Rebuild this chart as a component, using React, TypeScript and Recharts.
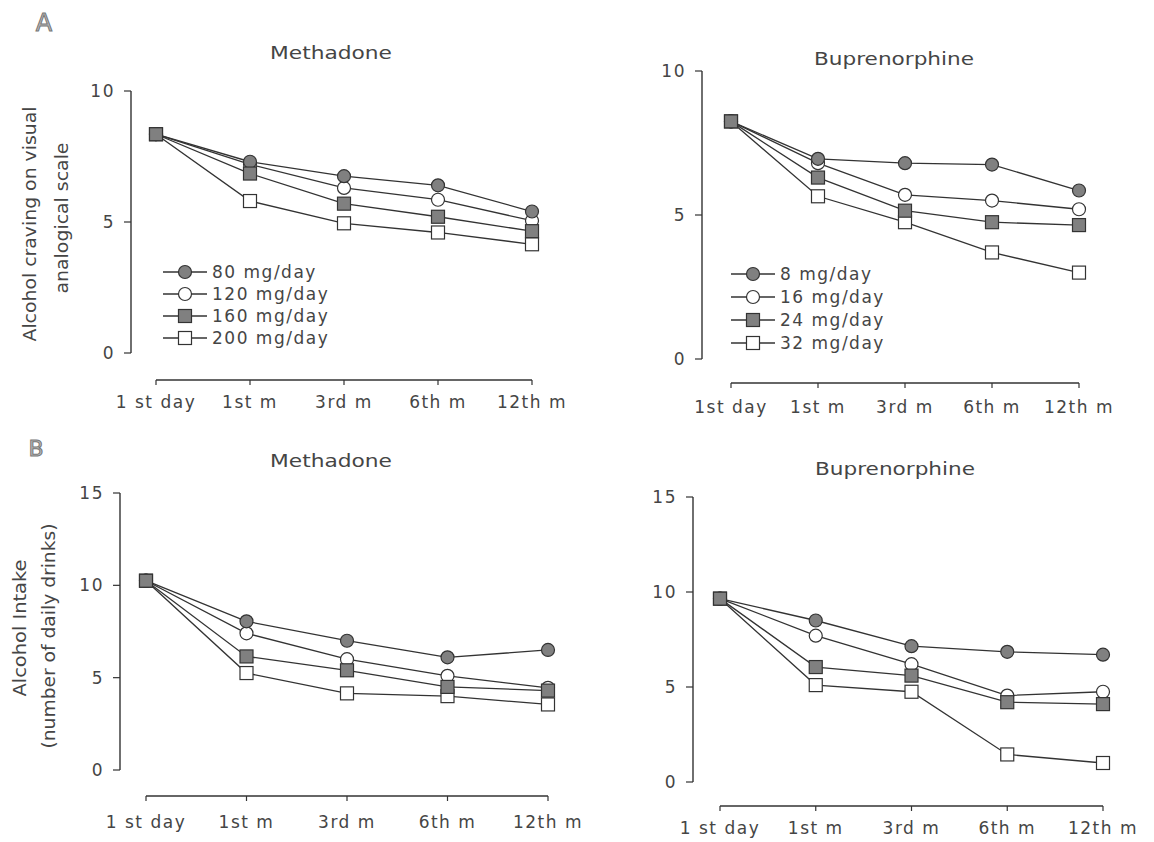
import { LineChart, Line, XAxis, YAxis, ReferenceLine } from "recharts";

const FONT = "'DejaVu Sans', 'Liberation Sans', sans-serif";
const INK = "#333";
const TEXT = "#454545";
const GRAY = "#808080";

// x categories
const timeLabels = ["1 st day", "1st m", "3rd m", "6th m", "12th m"];
const timeLabelsTopRight = ["1st day", "1st m", "3rd m", "6th m", "12th m"];

// doses (legend order)
const methadoneDoses = ["80 mg/day", "120 mg/day", "160 mg/day", "200 mg/day"];
const buprenorphineDoses = ["8 mg/day", "16 mg/day", "24 mg/day", "32 mg/day"];

// A: alcohol craving (VAS)
const cravingMeth80 = [8.35, 7.3, 6.75, 6.4, 5.4];
const cravingMeth120 = [8.35, 7.2, 6.3, 5.85, 5.05];
const cravingMeth160 = [8.35, 6.85, 5.7, 5.2, 4.65];
const cravingMeth200 = [8.35, 5.8, 4.95, 4.6, 4.15];

const cravingBup8 = [8.25, 6.95, 6.8, 6.75, 5.85];
const cravingBup16 = [8.25, 6.8, 5.7, 5.5, 5.2];
const cravingBup24 = [8.25, 6.3, 5.15, 4.75, 4.65];
const cravingBup32 = [8.25, 5.65, 4.75, 3.7, 3.0];

// B: alcohol intake (daily drinks)
const intakeMeth80 = [10.25, 8.05, 7.0, 6.1, 6.5];
const intakeMeth120 = [10.25, 7.4, 6.0, 5.1, 4.45];
const intakeMeth160 = [10.25, 6.15, 5.4, 4.5, 4.3];
const intakeMeth200 = [10.25, 5.25, 4.15, 4.0, 3.55];

const intakeBup8 = [9.65, 8.5, 7.15, 6.85, 6.7];
const intakeBup16 = [9.65, 7.7, 6.2, 4.55, 4.75];
const intakeBup24 = [9.65, 6.05, 5.6, 4.2, 4.1];
const intakeBup32 = [9.65, 5.1, 4.75, 1.45, 1.0];

// marker style per dose slot: gray circle, open circle, gray square, open square
const markerKinds = [
  { shape: "circle", fill: GRAY },
  { shape: "circle", fill: "#fff" },
  { shape: "square", fill: GRAY },
  { shape: "square", fill: "#fff" },
];
const drawOrder = [3, 1, 0, 2];

function Marker({ cx, cy, slot }: { cx: number; cy: number; slot: number }) {
  const m = markerKinds[slot];
  if (m.shape === "circle") {
    return <circle cx={cx} cy={cy} r={6.5} fill={m.fill} stroke={INK} strokeWidth={1.2} />;
  }
  return <rect x={cx - 6.5} y={cy - 6.5} width={13} height={13} fill={m.fill} stroke={INK} strokeWidth={1.2} />;
}

const dotFor = (slot: number) => (props: any) => {
  const { cx, cy, index } = props;
  if (cx == null || cy == null) return <g key={`d${slot}-${index}`} />;
  return (
    <g key={`d${slot}-${index}`}>
      <Marker cx={cx} cy={cy} slot={slot} />
    </g>
  );
};

interface Geo {
  left: number; top: number; width: number; height: number;
  axisX: number; x0: number; x4: number;
  yTop: number; yZero: number; xAxisY: number; labelGap: number;
}

function Panel({ geo, values, xLabels, yMax, yTicks }: {
  geo: Geo; values: number[][]; xLabels: string[]; yMax: number; yTicks: number[];
}) {
  const xStep = (geo.x4 - geo.x0) / 4;
  const xMin = -(geo.x0 - geo.axisX) / xStep;
  const yUnit = (geo.yZero - geo.yTop) / yMax;
  const yMin = -(geo.xAxisY - geo.yZero) / yUnit;
  const yAxisW = 50;
  const xAxisH = 30;
  const margin = {
    top: geo.yTop - geo.top,
    left: geo.axisX - geo.left - yAxisW,
    right: geo.left + geo.width - geo.x4,
    bottom: geo.top + geo.height - geo.xAxisY - xAxisH,
  };
  const data = xLabels.map((_, i) => ({
    x: i, s0: values[0][i], s1: values[1][i], s2: values[2][i], s3: values[3][i],
  }));
  const tickStyle = { fill: TEXT, fontSize: 17, fontFamily: FONT, letterSpacing: 1.5 };
  return (
    <div style={{ position: "absolute", left: geo.left, top: geo.top }}>
      <LineChart width={geo.width} height={geo.height} data={data} margin={margin}>
        <XAxis
          type="number"
          dataKey="x"
          domain={[xMin, 4]}
          ticks={[0, 1, 2, 3, 4]}
          interval={0}
          tickFormatter={(v: number) => xLabels[v]}
          axisLine={false}
          tickLine={{ stroke: INK, strokeWidth: 1.2 }}
          tickSize={5}
          tickMargin={geo.labelGap - 11}
          height={xAxisH}
          tick={tickStyle}
        />
        <YAxis
          type="number"
          domain={[yMin, yMax]}
          ticks={yTicks}
          interval={0}
          axisLine={false}
          tickLine={{ stroke: INK, strokeWidth: 1.2 }}
          tickSize={7}
          tickMargin={9}
          width={yAxisW}
          tick={tickStyle}
        />
        <ReferenceLine
          ifOverflow="visible"
          segment={[{ x: xMin, y: 0 }, { x: xMin, y: yMax }]}
          stroke={INK}
          strokeWidth={1.4}
        />
        <ReferenceLine
          ifOverflow="visible"
          segment={[{ x: 0, y: yMin }, { x: 4, y: yMin }]}
          stroke={INK}
          strokeWidth={1.4}
        />
        {drawOrder.map((slot) => (
          <Line
            key={slot}
            type="linear"
            dataKey={`s${slot}`}
            stroke={INK}
            strokeWidth={1.3}
            dot={dotFor(slot)}
            activeDot={false}
            isAnimationActive={false}
          />
        ))}
      </LineChart>
    </div>
  );
}

function LegendBlock({ x, y, rowGap, labels }: { x: number; y: number; rowGap: number; labels: string[] }) {
  return (
    <g>
      {labels.map((lab, i) => {
        const cy = y + i * rowGap;
        return (
          <g key={lab}>
            <line x1={x} x2={x + 44} y1={cy} y2={cy} stroke={INK} strokeWidth={1.3} />
            <Marker cx={x + 22} cy={cy} slot={i} />
            <text x={x + 49} y={cy} dominantBaseline="central" fontSize={17} letterSpacing={1.5} fill={TEXT}>
              {lab}
            </text>
          </g>
        );
      })}
    </g>
  );
}

const geoAL: Geo = { left: 0, top: 0, width: 610, height: 430, axisX: 131, x0: 156, x4: 532, yTop: 91, yZero: 353, xAxisY: 380, labelGap: 22 };
const geoAR: Geo = { left: 610, top: 0, width: 544, height: 430, axisX: 702, x0: 731, x4: 1079, yTop: 71, yZero: 359, xAxisY: 383, labelGap: 24 };
const geoBL: Geo = { left: 0, top: 430, width: 610, height: 412, axisX: 120, x0: 146, x4: 548, yTop: 493, yZero: 770, xAxisY: 796, labelGap: 26 };
const geoBR: Geo = { left: 610, top: 430, width: 544, height: 412, axisX: 693, x0: 720, x4: 1103, yTop: 497, yZero: 782, xAxisY: 806, labelGap: 22 };

const stretch = { lengthAdjust: "spacingAndGlyphs" } as any;

export default function App() {
  return (
    <div style={{ position: "absolute", left: 0, top: 0, width: 1154, height: 842, background: "#fff", overflow: "hidden", fontFamily: FONT }}>
      <Panel geo={geoAL} xLabels={timeLabels} yMax={10} yTicks={[0, 5, 10]}
        values={[cravingMeth80, cravingMeth120, cravingMeth160, cravingMeth200]} />
      <Panel geo={geoAR} xLabels={timeLabelsTopRight} yMax={10} yTicks={[0, 5, 10]}
        values={[cravingBup8, cravingBup16, cravingBup24, cravingBup32]} />
      <Panel geo={geoBL} xLabels={timeLabels} yMax={15} yTicks={[0, 5, 10, 15]}
        values={[intakeMeth80, intakeMeth120, intakeMeth160, intakeMeth200]} />
      <Panel geo={geoBR} xLabels={timeLabels} yMax={15} yTicks={[0, 5, 10, 15]}
        values={[intakeBup8, intakeBup16, intakeBup24, intakeBup32]} />

      <svg width={1154} height={842} style={{ position: "absolute", left: 0, top: 0, pointerEvents: "none" }} fontFamily={FONT}>
        <text x={44} y={23} textAnchor="middle" dominantBaseline="central" fontSize={24} fill="#bbb" stroke="#777" strokeWidth={1}>A</text>
        <text x={36} y={448} textAnchor="middle" dominantBaseline="central" fontSize={22} fill="#bbb" stroke="#777" strokeWidth={1}>B</text>

        <text x={331} y={52} textAnchor="middle" dominantBaseline="central" fontSize={18} fill={TEXT} textLength={122} {...stretch}>Methadone</text>
        <text x={894} y={58} textAnchor="middle" dominantBaseline="central" fontSize={18} fill={TEXT} textLength={160} {...stretch}>Buprenorphine</text>
        <text x={331} y={460} textAnchor="middle" dominantBaseline="central" fontSize={18} fill={TEXT} textLength={122} {...stretch}>Methadone</text>
        <text x={895} y={468} textAnchor="middle" dominantBaseline="central" fontSize={18} fill={TEXT} textLength={160} {...stretch}>Buprenorphine</text>

        <text transform="translate(30,224) rotate(-90)" textAnchor="middle" dominantBaseline="central" fontSize={17} fill={TEXT} textLength={235} {...stretch}>Alcohol craving on visual</text>
        <text transform="translate(62,218) rotate(-90)" textAnchor="middle" dominantBaseline="central" fontSize={17} fill={TEXT} textLength={151} {...stretch}>analogical scale</text>
        <text transform="translate(20,628) rotate(-90)" textAnchor="middle" dominantBaseline="central" fontSize={17} fill={TEXT} textLength={137} {...stretch}>Alcohol Intake</text>
        <text transform="translate(49,636) rotate(-90)" textAnchor="middle" dominantBaseline="central" fontSize={17} fill={TEXT} textLength={225} {...stretch}>(number of daily drinks)</text>

        <LegendBlock x={163} y={272} rowGap={22} labels={methadoneDoses} />
        <LegendBlock x={731} y={274} rowGap={23} labels={buprenorphineDoses} />
      </svg>
    </div>
  );
}
